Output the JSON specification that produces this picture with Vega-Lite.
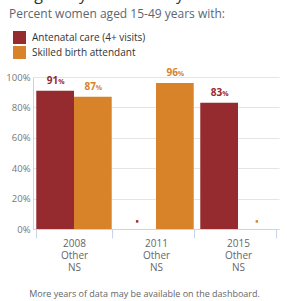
{
  "$schema": "https://vega.github.io/schema/vega-lite/v6.json",
  "width": 246,
  "height": 152,
  "autosize": {"type": "none"},
  "padding": {"left": 33, "top": 77, "right": 8, "bottom": 72},
  "config": {
    "font": "Open Sans",
    "view": {"stroke": null},
    "axisY": {
      "labelExpr": "datum.value + '%'",
      "labelOverlap": false,
      "tickSize": 0,
      "labelPadding": 3,
      "labelFontSize": 9.5,
      "labelColor": "#777777",
      "domainColor": "#c9d4e8",
      "gridColor": "#e4e4e4"
    }
  },
  "title": {
    "text": "Pregnancy and Delivery Care",
    "subtitle": "Percent women aged 15-49 years with:",
    "anchor": "start",
    "frame": "group",
    "dx": -24,
    "offset": 11,
    "fontSize": 16,
    "fontWeight": "normal",
    "color": "#333333",
    "subtitleFontSize": 12,
    "subtitleColor": "#5b6670",
    "subtitlePadding": 6
  },
  "data": {
    "values": [
      {"year": "2008", "indicator": "Antenatal care (4+ visits)", "value": 91},
      {"year": "2008", "indicator": "Skilled birth attendant", "value": 87},
      {"year": "2011", "indicator": "Antenatal care (4+ visits)", "value": null},
      {"year": "2011", "indicator": "Skilled birth attendant", "value": 96},
      {"year": "2015", "indicator": "Antenatal care (4+ visits)", "value": 83},
      {"year": "2015", "indicator": "Skilled birth attendant", "value": null}
    ]
  },
  "encoding": {
    "x": {
      "field": "year",
      "type": "nominal",
      "scale": {"paddingInner": 0.08, "paddingOuter": 0.04},
      "axis": {
        "title": "More years of data may be available on the dashboard.",
        "titleFontSize": 9,
        "titleFontWeight": "normal",
        "titleColor": "#666666",
        "titleX": 111,
        "titleY": 67,
        "titleBaseline": "alphabetic",
        "labelAngle": 0,
        "labelExpr": "datum.label ? [datum.label, 'Other', 'NS'] : ''",
        "labelFontSize": 10,
        "labelColor": "#666666",
        "labelLineHeight": 12,
        "labelPadding": 0,
        "tickBand": "extent",
        "tickSize": 9,
        "tickColor": "#c9d4e8",
        "domainColor": "#c9d4e8",
        "grid": false
      }
    },
    "xOffset": {"field": "indicator", "type": "nominal", "scale": {"paddingInner": 0, "paddingOuter": 0}},
    "color": {
      "field": "indicator",
      "type": "nominal",
      "scale": {
        "domain": ["Antenatal care (4+ visits)", "Skilled birth attendant"],
        "range": ["#952a2f", "#d8832a"]
      },
      "legend": {
        "title": null,
        "orient": "none",
        "legendX": -20,
        "legendY": -46,
        "symbolType": "square",
        "symbolSize": 169,
        "symbolStrokeWidth": 0,
        "symbolOpacity": 1,
        "labelFontSize": 10,
        "labelColor": "#333333",
        "rowPadding": 2,
        "labelOffset": 6,
        "padding": 0
      }
    }
  },
  "layer": [
    {
      "mark": {"type": "bar"},
      "encoding": {
        "y": {"field": "value", "type": "quantitative", "scale": {"domain": [0, 100]}, "axis": {"title": null, "values": [0, 20, 40, 60, 80, 100]}}
      }
    },
    {
      "mark": {"type": "text", "align": "right", "baseline": "alphabetic", "dx": 3, "dy": -7, "fontWeight": "bold", "fontSize": 10},
      "encoding": {
        "y": {"field": "value", "type": "quantitative", "axis": {"title": null, "values": [0, 20, 40, 60, 80, 100]}},
        "text": {"field": "value", "type": "quantitative", "format": "d"}
      }
    },
    {
      "mark": {"type": "text", "align": "left", "baseline": "alphabetic", "dx": 3, "dy": -7, "fontWeight": "bold", "fontSize": 7, "text": "%"},
      "encoding": {
        "y": {"field": "value", "type": "quantitative", "axis": {"title": null, "values": [0, 20, 40, 60, 80, 100]}}
      }
    },
    {
      "transform": [{"filter": "datum.value == null"}],
      "mark": {"type": "square", "size": 6, "opacity": 1},
      "encoding": {
        "y": {"datum": 5, "type": "quantitative", "axis": {"title": null, "values": [0, 20, 40, 60, 80, 100]}}
      }
    }
  ]
}
